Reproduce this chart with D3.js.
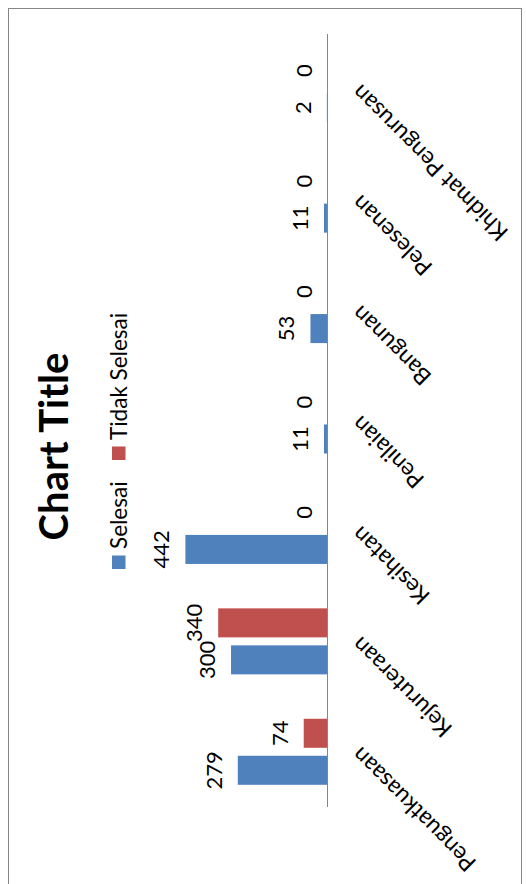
<!DOCTYPE html>
<html>
<head>
<meta charset="utf-8">
<script src="https://cdn.jsdelivr.net/npm/d3@7"></script>
<style>
  html, body { margin: 0; padding: 0; background: #fff; }
  svg { display: block; }
  text { font-family: Lato, "Open Sans", sans-serif; fill: #000; }
</style>
</head>
<body>
<div id="chart"></div>
<script>
const categories = ["Penguatkuasaan", "Kejuruteraan", "Kesihatan", "Penilaian", "Bangunan", "Pelesenan", "Khidmat Pengurusan"];
const seriesNames = ["Selesai", "Tidak Selesai"];
const selesai = [279, 300, 442, 11, 53, 11, 2];
const tidakSelesai = [74, 340, 0, 0, 0, 0, 0];
const seriesColors = ["#4F81BD", "#C0504D"];
const chartTitle = "Chart Title";

const W = 526, H = 884;
const svg = d3.select("#chart").append("svg").attr("width", W).attr("height", H);
svg.append("rect").attr("width", W).attr("height", H).attr("fill", "#fff");

// chart is drawn in its own (unrotated) frame, then turned 90° counter-clockwise
const g = svg.append("g").attr("transform", `translate(0,${H}) rotate(-90)`);

// frame
g.append("rect")
  .attr("x", -20).attr("y", 8.5)
  .attr("width", 895.5).attr("height", 513)
  .attr("fill", "none").attr("stroke", "#868686").attr("stroke-width", 1);

const axisY = 327.5;
const x0 = d3.scaleBand().domain(categories).range([77, 850]);
const x1 = d3.scaleBand().domain(seriesNames).range([0, x0.bandwidth()])
  .paddingInner(0.216).paddingOuter(0.6);
const y = d3.scaleLinear().domain([0, 500]).range([axisY, axisY - 160.75]);

const data = categories.map((c, i) => ({ cat: c, vals: [selesai[i], tidakSelesai[i]] }));

const groups = g.selectAll("g.cat").data(data).join("g")
  .attr("class", "cat")
  .attr("transform", d => `translate(${x0(d.cat)},0)`);

groups.selectAll("rect").data(d => d.vals.map((v, k) => ({ v, s: seriesNames[k], k })))
  .join("rect")
  .attr("x", d => x1(d.s))
  .attr("width", x1.bandwidth())
  .attr("y", d => y(d.v))
  .attr("height", d => y(0) - y(d.v))
  .attr("fill", d => seriesColors[d.k]);

groups.selectAll("text.val").data(d => d.vals.map((v, k) => ({ v, s: seriesNames[k], k })))
  .join("text")
  .attr("class", "val")
  .attr("x", d => x1(d.s) + x1.bandwidth() / 2)
  .attr("y", d => y(d.v) - 16)
  .attr("text-anchor", "middle")
  .attr("font-size", 22)
  .text(d => d.v);

// axis line
g.append("line")
  .attr("x1", 77).attr("x2", 850)
  .attr("y1", axisY).attr("y2", axisY)
  .attr("stroke", "#868686").attr("stroke-width", 1);

// category labels
g.selectAll("text.cat").data(categories).join("text")
  .attr("class", "cat")
  .attr("transform", d => `translate(${x0(d) + x0.bandwidth() / 2 + 6},${axisY + 34}) rotate(-45)`)
  .attr("text-anchor", "end")
  .attr("font-size", 23)
  .text(d => d);

// title
g.append("text")
  .attr("x", 437.5).attr("y", 68)
  .attr("text-anchor", "middle")
  .attr("font-size", 40).attr("font-weight", "bold")
  .text(chartTitle);

// legend
const legend = g.append("g");
const legX = [315, 424];
seriesNames.forEach((s, k) => {
  legend.append("rect")
    .attr("x", legX[k]).attr("y", 112)
    .attr("width", 13.5).attr("height", 13.5)
    .attr("fill", seriesColors[k]);
  legend.append("text")
    .attr("x", legX[k] + 20).attr("y", 127)
    .attr("font-size", 22.5)
    .text(s);
});
</script>
</body>
</html>
